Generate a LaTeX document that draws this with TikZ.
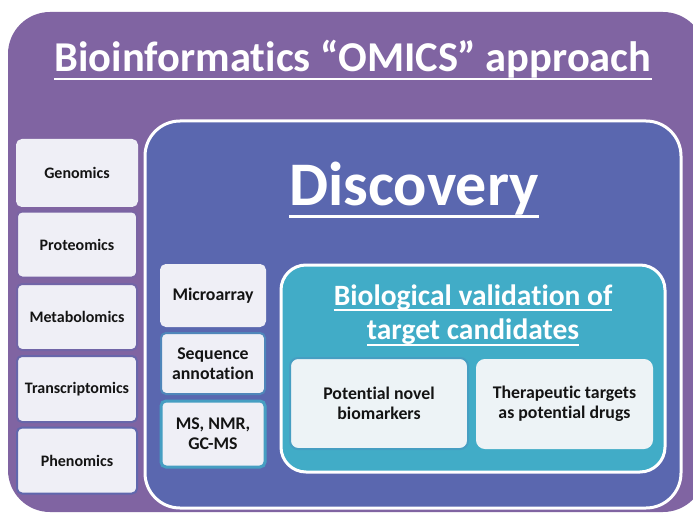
\documentclass[tikz,border=0pt]{standalone}
\usepackage{fontspec}
\setmainfont{Carlito}[Ligatures=NoCommon]
\usetikzlibrary{calc}
\definecolor{outerpurple}{HTML}{8064A2}
\definecolor{discblue}{HTML}{5A67AF}
\definecolor{biocyan}{HTML}{41ACC7}
\definecolor{lightfill}{HTML}{EFEFF6}
\definecolor{lightcyanfill}{HTML}{EDF3F6}
\definecolor{txt}{HTML}{141414}
\tikzset{
  outerbox/.style={fill=outerpurple, rounded corners=42pt, inner sep=0pt},
  discbox/.style={fill=discblue, draw=white, line width=3pt, rounded corners=35pt, inner sep=0pt},
  biobox/.style={fill=biocyan, draw=white, line width=3pt, rounded corners=25pt, inner sep=0pt},
  omicbox/.style={fill=lightfill, rounded corners=5pt, minimum width=120pt, minimum height=66pt, line width=2pt,
     align=center, text=txt, font=\fontsize{16}{18}\selectfont\bfseries, inner sep=2pt},
  techbox/.style={fill=lightfill, rounded corners=5pt, minimum width=104pt, line width=2pt,
     align=center, text=txt, font=\fontsize{17.8}{20}\selectfont\bfseries, inner sep=2pt},
  outbox/.style={fill=lightcyanfill, rounded corners=8pt, line width=2pt,
     align=center, text=txt, font=\fontsize{17.8}{20}\selectfont\bfseries, inner sep=2pt},
  headtext/.style={text=white, inner sep=0pt, anchor=base},
  uline/.style={white, line width=#1},
}
\begin{document}
\begin{tikzpicture}[x=1pt,y=-1pt]
\useasboundingbox (0,0) rectangle (693,513);
\fill[white] (0,0) rectangle (693,513);
% outer purple panel
\node[outerbox, minimum width=697pt, minimum height=500pt] (outer) at (356.5,262) {};
% title
\node[headtext, font=\fontsize{42.5}{48}\selectfont\bfseries] (title) at (353,72) {Bioinformatics “OMICS” approach};
\draw[uline=2.5pt] ($(title.base west)+(0,7)$) -- ($(title.base east)+(0,7)$);
% omics column
\node[omicbox, draw=lightfill] (genomics) at (77,173) {Genomics};
\node[omicbox, draw=outerpurple!85!discblue] (proteomics) at (77,244.5) {Proteomics};
\node[omicbox, draw=outerpurple!60!discblue] (metabolomics) at (77,317) {Metabolomics};
\node[omicbox, draw=outerpurple!35!discblue] (transcriptomics) at (77,389) {Transcriptomics};
\node[omicbox, draw=outerpurple!15!discblue] (phenomics) at (77,460.5) {Phenomics};
% discovery panel
\node[discbox, minimum width=536pt, minimum height=387pt] (disc) at (413,314.5) {};
\node[headtext, font=\fontsize{62}{68}\selectfont\bfseries] (disctitle) at (414,205) {Discovery};
\draw[uline=3pt] ($(disctitle.base west)+(0,11)$) -- ($(disctitle.base east)+(0,11)$);
% technology column
\node[techbox, draw=lightfill, minimum height=61pt] (micro) at (213,295.5) {Microarray};
\node[techbox, draw=discblue!55!biocyan, minimum height=61pt] (seq) at (213,363.5) {Sequence\\annotation};
\node[techbox, draw=discblue!20!biocyan, line width=3pt, minimum height=66pt] (ms) at (213,434) {MS, NMR,\\GC-MS};
% biological validation panel
\node[biobox, minimum width=384pt, minimum height=207pt] (bio) at (473,368.5) {};
\node[headtext, font=\fontsize{29.5}{34}\selectfont\bfseries] (bio1) at (473,305) {Biological validation of};
\draw[uline=2pt] ($(bio1.base west)+(0,5)$) -- ($(bio1.base east)+(0,5)$);
\node[headtext, font=\fontsize{29.5}{34}\selectfont\bfseries] (bio2) at (473,339) {target candidates};
\draw[uline=2pt] ($(bio2.base west)+(0,6)$) -- ($(bio2.base east)+(0,6)$);
% outcomes
\node[outbox, draw=biocyan!80!discblue, minimum width=178pt, minimum height=91pt] (novel) at (379,403.5) {Potential novel\\biomarkers};
\node[outbox, draw=lightcyanfill, minimum width=175pt, minimum height=88pt] (thera) at (564.5,404) {Therapeutic targets\\as potential drugs};
\end{tikzpicture}
\end{document}
